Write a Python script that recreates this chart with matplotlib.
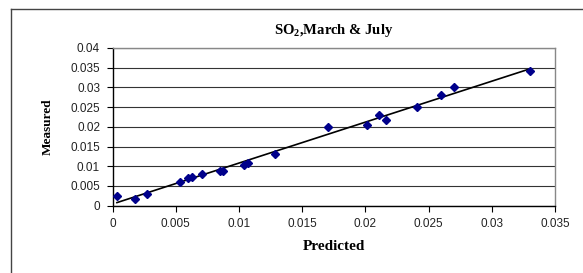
import matplotlib
matplotlib.use("Agg")
from matplotlib import pyplot as plt
from matplotlib.lines import Line2D
from matplotlib.ticker import MultipleLocator, FuncFormatter
import numpy as np

predicted = [0.00035, 0.00176, 0.0027, 0.00535, 0.0060, 0.00626, 0.00706,
             0.00853, 0.00876, 0.0104, 0.01068, 0.01285, 0.01703, 0.02015,
             0.02106, 0.02165, 0.02406, 0.0260, 0.0270, 0.0330]
measured = [0.00246, 0.00178, 0.0030, 0.0060, 0.0069, 0.0072, 0.0080,
            0.0087, 0.0089, 0.0104, 0.0108, 0.0131, 0.0200, 0.0204,
            0.0230, 0.0217, 0.0250, 0.0280, 0.0300, 0.0341]
title = "SO$_\\mathbf{2}$,March & July"

serif = ["Liberation Serif", "DejaVu Serif"]
sans = ["Liberation Sans", "DejaVu Sans"]

plt.rcParams["mathtext.fontset"] = "custom"
plt.rcParams["mathtext.rm"] = "Liberation Serif"
plt.rcParams["mathtext.bf"] = "Liberation Serif:bold"


def main():
    fig = plt.figure(figsize=(5.83, 2.73), dpi=100)
    ax = fig.add_axes([0.193, 0.2465, 0.759, 0.578])

    x = np.array(predicted)
    y = np.array(measured)
    m, b = np.polyfit(x, y, 1)
    xs = np.array([x.min(), x.max()])
    ax.plot(xs, m * xs + b, color="black", lw=1.2, zorder=3)
    ax.plot(x, y, linestyle="none", marker="D", markersize=3.8,
            color="#00008b", zorder=4)

    ax.set_xlim(0, 0.035)
    ax.set_ylim(0, 0.04)
    ax.xaxis.set_major_locator(MultipleLocator(0.005))
    ax.yaxis.set_major_locator(MultipleLocator(0.005))
    fmt = FuncFormatter(lambda v, p: "%g" % round(v, 4))
    ax.xaxis.set_major_formatter(fmt)
    ax.yaxis.set_major_formatter(fmt)
    ax.grid(axis="y", color="#333333", lw=0.8)
    ax.set_axisbelow(True)

    for s in ("top", "right"):
        ax.spines[s].set_color("#888888")
        ax.spines[s].set_linewidth(1.0)
    for s in ("left", "bottom"):
        ax.spines[s].set_color("black")
        ax.spines[s].set_linewidth(1.0)

    ax.tick_params(direction="out", length=4, width=0.8, pad=5,
                   labelsize=8.5)
    for lab in ax.get_xticklabels() + ax.get_yticklabels():
        lab.set_family(sans)
        lab.set_color("#222222")

    ax.set_title(title, family=serif, fontweight="bold", fontsize=10.5,
                 pad=10)
    ax.set_xlabel("Predicted", family=serif, fontweight="bold", fontsize=11,
                  labelpad=7)
    ax.set_ylabel("Measured", family=serif, fontweight="bold", fontsize=9.5,
                  labelpad=12)

    # outer chart frame (left and top edges visible)
    fig.add_artist(Line2D([0.019, 0.019], [0.0, 0.966], color="#444444",
                          lw=1.0, transform=fig.transFigure))
    fig.add_artist(Line2D([0.019, 1.0], [0.966, 0.966], color="#444444",
                          lw=1.0, transform=fig.transFigure))

    fig.savefig("out.png", dpi=100)


main()
